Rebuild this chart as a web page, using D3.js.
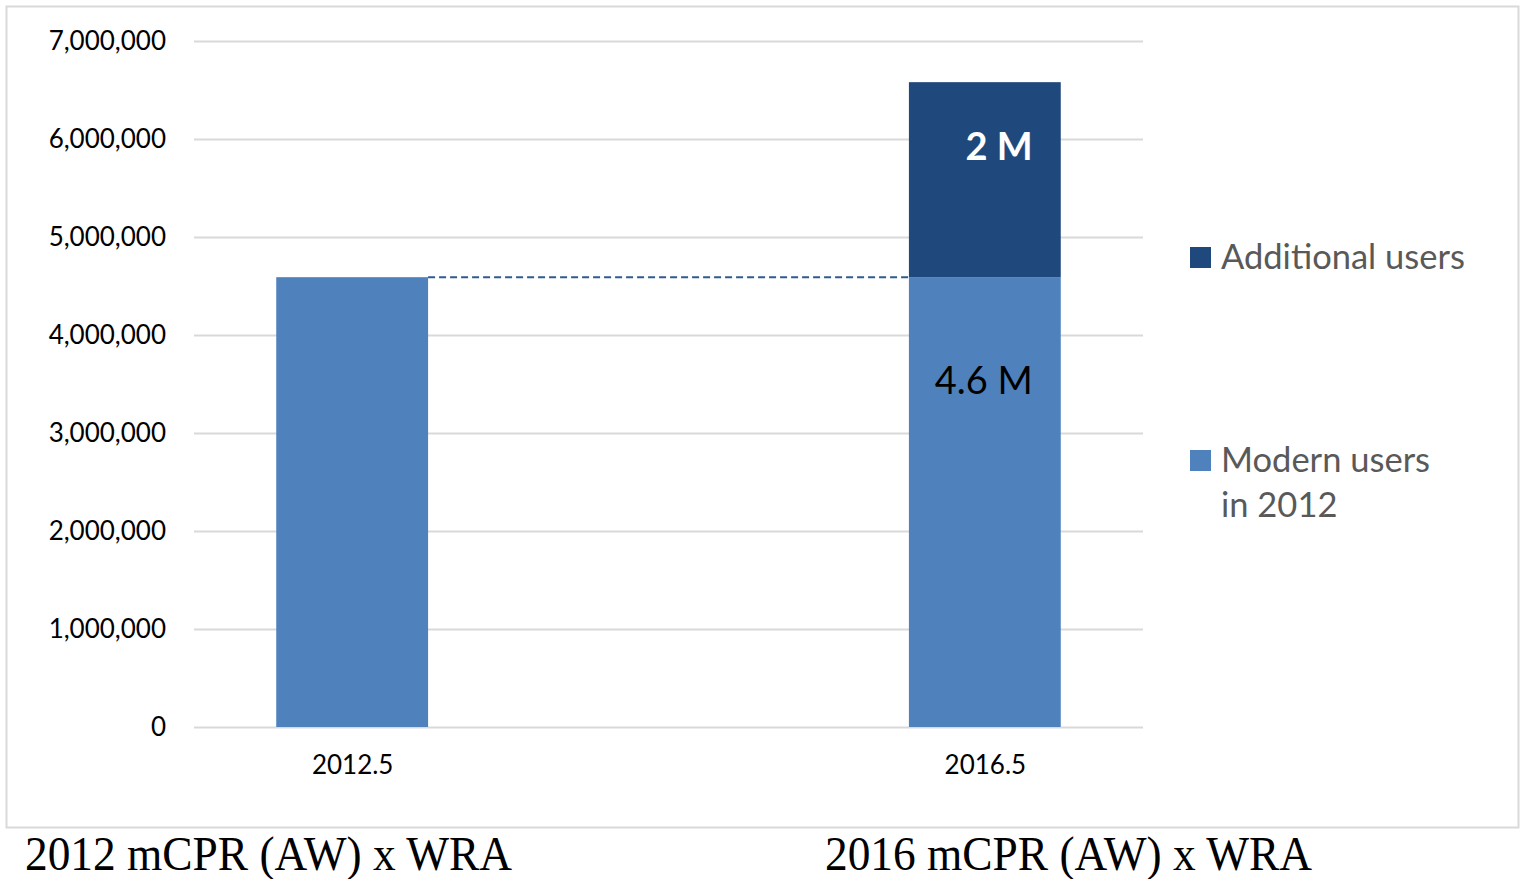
<!DOCTYPE html>
<html>
<head>
<meta charset="utf-8">
<script src="https://cdn.jsdelivr.net/npm/d3@7"></script>
<style>
  body { margin: 0; background: #fff; }
  svg { display: block; }
</style>
</head>
<body>
<script>
const width = 1521;
const height = 879;

// data
const years = [2012.5, 2016.5];
const modernUsers2012 = [4590000, 4590000];
const additionalUsers = [0, 1990000];
const yTicks = [0, 1000000, 2000000, 3000000, 4000000, 5000000, 6000000, 7000000];
const segmentLabels = ["4.6 M", "2 M"];
const seriesNames = ["Additional users", "Modern users\nin 2012"];
const footnotes = ["2012 mCPR (AW) x WRA", "2016 mCPR (AW) x WRA"];

const colors = {
  modern: "#4f81bd",
  additional: "#1f497d"
};
const sans = "Lato, 'Open Sans', sans-serif";

const margin = { top: 41, left: 194, right: 378, bottom: 152 };
const plotW = width - margin.left - margin.right;
const plotH = height - margin.top - margin.bottom;

const svg = d3.select("body").append("svg")
  .attr("width", width)
  .attr("height", height);

// chart frame
svg.append("rect")
  .attr("x", 6.5).attr("y", 6.5)
  .attr("width", 1512).attr("height", 821)
  .attr("fill", "none")
  .attr("stroke", "#d9d9d9")
  .attr("stroke-width", 2);

const g = svg.append("g")
  .attr("transform", `translate(${margin.left},${margin.top})`);

const x = d3.scaleLinear().domain([2011.5, 2017.5]).range([0, plotW]);
const y = d3.scaleLinear().domain([0, 7000000]).range([plotH, 0]);
const barW = x(2012.46) - x(2011.5);

// gridlines + y labels
const yAxis = g.append("g")
  .call(d3.axisLeft(y).tickValues(yTicks).tickSize(-plotW).tickPadding(28)
    .tickFormat(d3.format(",")));
yAxis.select(".domain").remove();
yAxis.selectAll(".tick line").attr("stroke", "#d9d9d9").attr("stroke-width", 2);
yAxis.selectAll(".tick text")
  .attr("font-family", sans)
  .attr("font-size", 26)
  .attr("fill", "#000");

// x labels
const xAxis = g.append("g")
  .attr("transform", `translate(0,${plotH})`)
  .call(d3.axisBottom(x).tickValues(years).tickSize(0).tickPadding(29)
    .tickFormat(d3.format(".1f")));
xAxis.select(".domain").remove();
xAxis.selectAll(".tick text")
  .attr("font-family", sans)
  .attr("font-size", 26)
  .attr("fill", "#000");

// stacked bars
const rows = years.map((yr, i) => ({ year: yr, modern: modernUsers2012[i], additional: additionalUsers[i] }));
const stack = d3.stack().keys(["modern", "additional"])(rows);

g.selectAll("g.series")
  .data(stack)
  .enter().append("g")
  .attr("class", "series")
  .attr("fill", d => colors[d.key])
  .selectAll("rect")
  .data(d => d.filter(s => s[1] > s[0]))
  .enter().append("rect")
  .attr("x", d => x(d.data.year) - barW / 2)
  .attr("y", d => y(d[1]))
  .attr("width", barW)
  .attr("height", d => y(d[0]) - y(d[1]));

// dashed reference line
g.append("line")
  .attr("x1", x(years[0]) + barW / 2)
  .attr("x2", x(years[1]) - barW / 2)
  .attr("y1", y(modernUsers2012[0]))
  .attr("y2", y(modernUsers2012[0]))
  .attr("stroke", "#2f5b8f")
  .attr("stroke-width", 2)
  .attr("stroke-dasharray", "7,4");

// labels inside the 2016 bar
const lx = x(years[1]) + barW / 2 - 28;
g.append("text")
  .attr("x", lx)
  .attr("y", y(modernUsers2012[1]) + 117)
  .attr("text-anchor", "end")
  .attr("font-family", sans)
  .attr("font-size", 38)
  .attr("fill", "#000")
  .text(segmentLabels[0]);
g.append("text")
  .attr("x", lx)
  .attr("y", y(modernUsers2012[1] + additionalUsers[1]) + 78)
  .attr("text-anchor", "end")
  .attr("font-family", sans)
  .attr("font-weight", "bold")
  .attr("font-size", 38)
  .attr("fill", "#fff")
  .text(segmentLabels[1]);

// legend
const legend = svg.append("g").attr("transform", "translate(1190,0)");
const legendY = [247, 450];
const legendColors = [colors.additional, colors.modern];
seriesNames.forEach((name, i) => {
  legend.append("rect")
    .attr("x", 0).attr("y", legendY[i])
    .attr("width", 21).attr("height", 21)
    .attr("fill", legendColors[i]);
  const t = legend.append("text")
    .attr("x", 31).attr("y", legendY[i] + 22)
    .attr("font-family", sans)
    .attr("font-size", 34.5)
    .attr("fill", "#595959");
  name.split("\n").forEach((line, j) => {
    t.append("tspan").attr("x", 31).attr("dy", j ? 45 : 0).text(line);
  });
});

// captions under the chart (narrow, tall serif)
const capX = [25, 825];
footnotes.forEach((txt, i) => {
  svg.append("text")
    .attr("x", capX[i])
    .attr("y", 870)
    .attr("font-family", "'Liberation Serif', 'Times New Roman', serif")
    .attr("font-size", 48)
    .attr("textLength", 487)
    .attr("lengthAdjust", "spacingAndGlyphs")
    .attr("fill", "#000")
    .text(txt);
});
</script>
</body>
</html>
